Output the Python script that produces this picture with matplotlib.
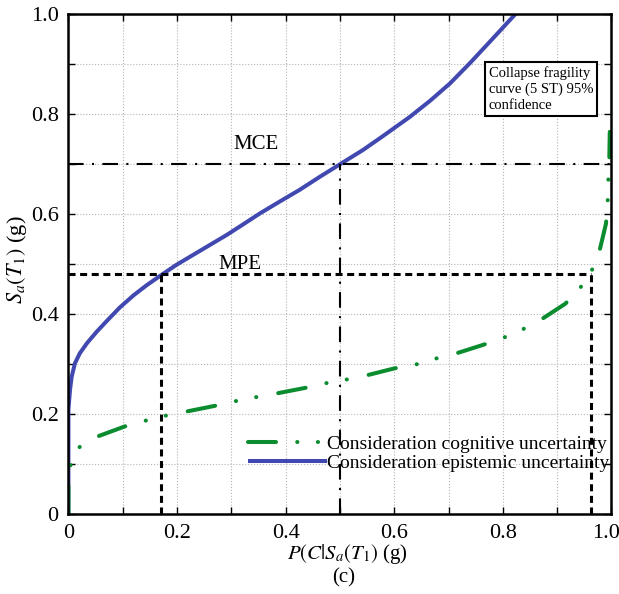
import matplotlib
matplotlib.use("Agg")
import matplotlib.pyplot as plt
import matplotlib.transforms as mtransforms
from matplotlib.ticker import FixedLocator, FixedFormatter

plt.rcParams['font.family'] = ['Liberation Serif', 'DejaVu Serif']
plt.rcParams['mathtext.fontset'] = 'stix'

# Collapse fragility curves: probability of collapse vs spectral acceleration
p_epistemic = [0.0, 0.0, 0.003, 0.006, 0.012, 0.021, 0.034, 0.052, 0.071, 0.095,
               0.120, 0.144, 0.169, 0.199, 0.230, 0.261, 0.292, 0.322, 0.353,
               0.390, 0.426, 0.463, 0.503, 0.543, 0.580, 0.629, 0.666, 0.703,
               0.740, 0.776, 0.822, 0.830]
sa_epistemic = [0.0, 0.21, 0.249, 0.275, 0.302, 0.322, 0.342, 0.365, 0.387, 0.414,
                0.438, 0.458, 0.477, 0.499, 0.519, 0.539, 0.559, 0.580, 0.602,
                0.626, 0.649, 0.675, 0.702, 0.729, 0.757, 0.795, 0.827, 0.862,
                0.903, 0.945, 0.999, 1.01]

p_cognitive = [0.0, 0.0, 0.002, 0.008, 0.021, 0.052, 0.107, 0.141, 0.178, 0.215,
               0.270, 0.306, 0.344, 0.380, 0.437, 0.473, 0.510, 0.546, 0.601,
               0.638, 0.675, 0.712, 0.764, 0.799, 0.835, 0.867, 0.915, 0.940,
               0.962, 0.977, 0.990, 0.993, 0.994, 0.996, 0.997]
sa_cognitive = [0.0, 0.06, 0.09, 0.115, 0.135, 0.155, 0.177, 0.187, 0.197, 0.205,
                0.217, 0.226, 0.234, 0.241, 0.253, 0.262, 0.269, 0.277, 0.292,
                0.299, 0.311, 0.321, 0.339, 0.352, 0.369, 0.387, 0.421, 0.449,
                0.483, 0.522, 0.581, 0.620, 0.662, 0.702, 0.765]

# Hazard levels and the corresponding collapse probabilities
mce_sa, mce_p = 0.70, 0.50
mpe_sa, mpe_p_epistemic, mpe_p_cognitive = 0.48, 0.17, 0.962

tick_values = [0.0, 0.2, 0.4, 0.6, 0.8, 1.0]
tick_labels = ["0", "0.2", "0.4", "0.6", "0.8", "1.0"]

legend_labels = ["Consideration cognitive uncertainty",
                 "Consideration epistemic uncertainty"]
note_text = "Collapse fragility\ncurve (5 ST) 95%\nconfidence"

blue = "#4149b0"
green = "#0b8c2f"

fig = plt.figure(figsize=(6.19, 5.94), dpi=100)
ax = fig.add_axes([68.4 / 619, 79.7 / 594, 543 / 619, 500 / 594])

line_epi, = ax.plot(p_epistemic, sa_epistemic, color=blue, lw=2.9,
                    solid_capstyle='butt', solid_joinstyle='round', zorder=2)
line_cog, = ax.plot(p_cognitive, sa_cognitive, color=green, lw=2.9,
                    dash_capstyle='round', dash_joinstyle='round', zorder=2.5,
                    linestyle=(0, (6.95, 5.27, 0.05, 5.07, 0.05, 5.52)))

# MCE reference lines (dash-dot)
mce_style = dict(color='black', lw=1.5, zorder=3, linestyle=(0, (7.5, 4.0, 1.0, 4.0)))
ax.plot([0, 1], [mce_sa, mce_sa], **mce_style)
ax.plot([mce_p, mce_p], [0, mce_sa], **mce_style)

# MPE reference lines (short dashes)
mpe_style = dict(color='black', lw=2.2, zorder=3, linestyle=(0, (2.3, 1.5)))
ax.plot([0, mpe_p_cognitive], [mpe_sa, mpe_sa], **mpe_style)
ax.plot([mpe_p_epistemic, mpe_p_epistemic], [0, mpe_sa], **mpe_style)
ax.plot([mpe_p_cognitive, mpe_p_cognitive], [0, mpe_sa], **mpe_style)

ax.text(0.345, 0.739, "MCE", fontsize=15, ha='center', va='center')
ax.text(0.316, 0.499, "MPE", fontsize=15, ha='center', va='center')

ax.text(0.7745, 0.897, note_text, transform=ax.transAxes, fontsize=10.5,
        ha='left', va='top', linespacing=1.3,
        bbox=dict(boxstyle='square,pad=0.25', fc='white', ec='black', lw=1.5),
        zorder=5)

ax.set_xlim(0, 1)
ax.set_ylim(0, 1)

grid_ticks = [i / 10 for i in range(11)]
shown = [tick_labels[tick_values.index(t)] if t in tick_values else "" for t in grid_ticks]
for axis in (ax.xaxis, ax.yaxis):
    axis.set_major_locator(FixedLocator(grid_ticks))
    axis.set_major_formatter(FixedFormatter(shown))

ax.tick_params(which='both', direction='in', length=5, width=1.0,
               top=True, right=True, labelsize=16, pad=7)
ax.grid(True, which='major', linestyle=':', color='#b4b4b4', lw=0.8, zorder=0)
ax.set_axisbelow(True)
for s in ax.spines.values():
    s.set_linewidth(1.8)

# keep the last x tick label inside the canvas
last_label = ax.get_xticklabels()[-1]
last_label.set_transform(last_label.get_transform() +
                         mtransforms.ScaledTranslation(-5 / 100, 0, fig.dpi_scale_trans))

ax.set_xlabel(r"$P(C|S_a(T_1)$ (g)", fontsize=15)
ax.xaxis.set_label_coords(0.514, -0.055)
ax.set_ylabel(r"$S_a(T_1)$ (g)", fontsize=16)
ax.yaxis.set_label_coords(-0.072, 0.51)
fig.text(344 / 619, 1 - 578 / 594, "(c)", fontsize=15, ha='center', va='center')

ax.legend([line_cog, line_epi], legend_labels, loc='lower left',
          bbox_to_anchor=(0.33, 0.085), frameon=False, fontsize=14,
          handlelength=4.1, handletextpad=0.0, labelspacing=0.05,
          borderpad=0.0, borderaxespad=0.0)

fig.savefig("out.png", dpi=100)
